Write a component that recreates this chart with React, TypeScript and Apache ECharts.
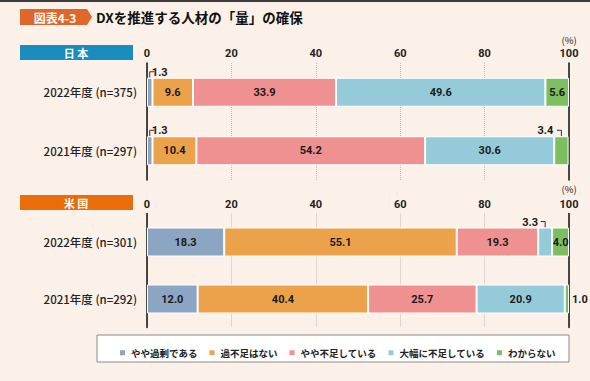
import React, { useEffect, useRef } from "react";
import * as echarts from "echarts";

const seriesNames = ["やや過剰である", "過不足はない", "やや不足している", "大幅に不足している", "わからない"];
const jpCategories = ["2022年度 (n=375)", "2021年度 (n=297)"];
const usCategories = ["2022年度 (n=301)", "2021年度 (n=292)"];
const jp2022 = [1.3, 9.6, 33.9, 49.6, 5.6];
const jp2021 = [1.3, 10.4, 54.2, 30.6, 3.4];
const us2022 = [18.3, 55.1, 19.3, 3.3, 4.0];
const us2021 = [12.0, 40.4, 25.7, 20.9, 1.0];
const xTicks = [0, 20, 40, 60, 80, 100];

const colors = ["#8ca5c2", "#eca24b", "#ef9191", "#95cbd8", "#7bbf60"];
const FONT = "'Noto Sans CJK JP', 'Noto Sans', sans-serif";
const NUMFONT = "Roboto, 'Noto Sans', sans-serif";

type Override = { g: number; s: number; y: number; label: any; bracket?: number };
const overrides: Override[] = [
  { g: 0, s: 0, y: 0, label: { position: "top", distance: 0, offset: [10, 0] }, bracket: 1 },
  { g: 0, s: 0, y: 1, label: { position: "top", distance: 0, offset: [10, 0] }, bracket: 1 },
  { g: 0, s: 4, y: 1, label: { position: "top", distance: 0, offset: [-16, 0] }, bracket: -1 },
  { g: 1, s: 3, y: 0, label: { position: "top", distance: 0, offset: [-15, 0] }, bracket: -1 },
  { g: 1, s: 4, y: 1, label: { position: "right", distance: 3 } },
];

export default function App() {
  const ref = useRef<HTMLDivElement>(null);
  useEffect(() => {
    document.body.style.margin = "0";
    const chart = echarts.init(ref.current!, null, { renderer: "svg" });
    const groups = [
      { rows: [jp2022, jp2021], cats: jpCategories, stack: "jp" },
      { rows: [us2022, us2021], cats: usCategories, stack: "us" },
    ];
    const series: any[] = [];
    groups.forEach((grp, g) => {
      seriesNames.forEach((name, s) => {
        series.push({
          type: "bar",
          name,
          stack: grp.stack,
          xAxisIndex: g,
          yAxisIndex: g * 2,
          barWidth: 29,
          itemStyle: { color: colors[s], borderColor: "#fff", borderWidth: 1 },
          label: {
            show: true,
            position: "inside",
            color: "#1a1a1a",
            fontSize: 11,
            fontWeight: "bold",
            fontFamily: NUMFONT,
            formatter: (p: any) => Number(p.value).toFixed(1),
          },
          data: grp.rows.map((row, y) => {
            const ov = overrides.find((o) => o.g === g && o.s === s && o.y === y);
            return ov ? { value: row[s], label: ov.label } : { value: row[s] };
          }),
        });
      });
    });

    const xAxis = (g: number) => ({
      type: "value",
      gridIndex: g,
      position: "top",
      min: 0,
      max: 100,
      interval: 20,
      axisLine: { show: false },
      axisTick: { show: false },
      axisLabel: {
        margin: 4,
        color: "#222",
        fontSize: 11,
        fontWeight: "bold",
        fontFamily: NUMFONT,
        formatter: (v: number) => (xTicks.includes(v) ? String(v) : ""),
      },
      splitLine: { show: true, lineStyle: { type: "dotted", color: "#bdbdbd", width: 1 } },
    });
    const yAxes = (g: number, cats: string[]) => [
      {
        type: "category",
        gridIndex: g,
        data: cats,
        inverse: true,
        axisLine: { show: true, lineStyle: { color: "#111", width: 1.5 } },
        axisTick: { show: false },
        axisLabel: { margin: 10, color: "#222", fontSize: 11.5, fontWeight: 500, fontFamily: FONT },
      },
      {
        type: "category",
        gridIndex: g,
        position: "right",
        data: cats,
        inverse: true,
        axisLine: { show: true, lineStyle: { color: "#111", width: 1.5 } },
        axisTick: { show: false },
        axisLabel: { show: false },
      },
    ];

    const baseGraphic: any[] = [
      { type: "rect", shape: { x: 0, y: 0, width: 590, height: 2 }, style: { fill: "#3c3c3c" } },
      { type: "polygon", shape: { points: [[20, 9], [87, 9], [92, 17], [87, 25], [20, 25]] }, style: { fill: "#e0672b" } },
      { type: "text", x: 55, y: 17, style: { text: "図表4-3", fill: "#fff", font: `bold 12px ${FONT}`, textAlign: "center", textVerticalAlign: "middle" } },
      { type: "text", x: 96, y: 17, style: { text: "DXを推進する人材の「量」の確保", fill: "#111", font: `bold 13.5px ${FONT}`, textVerticalAlign: "middle" } },
      { type: "rect", shape: { x: 20, y: 45, width: 113, height: 15 }, style: { fill: "#1a8cbd" } },
      { type: "text", x: 76, y: 52.5, style: { text: "日 本", fill: "#fff", font: `bold 11px ${FONT}`, textAlign: "center", textVerticalAlign: "middle" } },
      { type: "rect", shape: { x: 20, y: 195, width: 113, height: 15 }, style: { fill: "#ea6d0c" } },
      { type: "text", x: 76, y: 202.5, style: { text: "米 国", fill: "#fff", font: `bold 11px ${FONT}`, textAlign: "center", textVerticalAlign: "middle" } },
      { type: "text", x: 569, y: 40, style: { text: "(%)", fill: "#222", font: `9.5px ${FONT}`, textAlign: "center", textVerticalAlign: "middle" } },
      { type: "text", x: 569, y: 189, style: { text: "(%)", fill: "#222", font: `9.5px ${FONT}`, textAlign: "center", textVerticalAlign: "middle" } },
      { type: "rect", z: -1, shape: { x: 97, y: 335, width: 472, height: 27 }, style: { fill: "#fff", stroke: "#8a8a8a", lineWidth: 1 } },
    ];

    chart.setOption({
      animation: false,
      backgroundColor: "#fbf1e9",
      textStyle: { fontFamily: FONT },
      grid: [
        { left: 147, right: 21, top: 63, height: 117 },
        { left: 147, right: 21, top: 213.5, height: 114 },
      ],
      xAxis: [xAxis(0), xAxis(1)],
      yAxis: [...yAxes(0, jpCategories), ...yAxes(1, usCategories)],
      legend: {
        data: seriesNames,
        left: 113,
        top: 343,
        width: 520,
        icon: "rect",
        itemWidth: 7,
        itemHeight: 7,
        itemGap: 10,
        textStyle: { fontSize: 9.5, fontWeight: "bold", color: "#222", fontFamily: FONT },
      },
      graphic: baseGraphic,
      series,
    });

    const brackets: any[] = [];
    overrides.forEach((o) => {
      if (!o.bracket) return;
      const row = groups[o.g].rows[o.y];
      const start = row.slice(0, o.s).reduce((a, b) => a + b, 0);
      const mid = start + row[o.s] / 2;
      const [px, py] = chart.convertToPixel({ gridIndex: o.g } as any, [mid, o.y]) as number[];
      const top = py - 14.5;
      brackets.push({
        type: "polyline",
        shape: { points: [[px, top], [px, top - 6], [px + o.bracket * 4.5, top - 6]] },
        style: { stroke: "#333", lineWidth: 1, fill: null },
      });
    });
    chart.setOption({ graphic: [...baseGraphic, ...brackets] });

    return () => chart.dispose();
  }, []);
  return <div ref={ref} style={{ width: 590, height: 381 }} />;
}
